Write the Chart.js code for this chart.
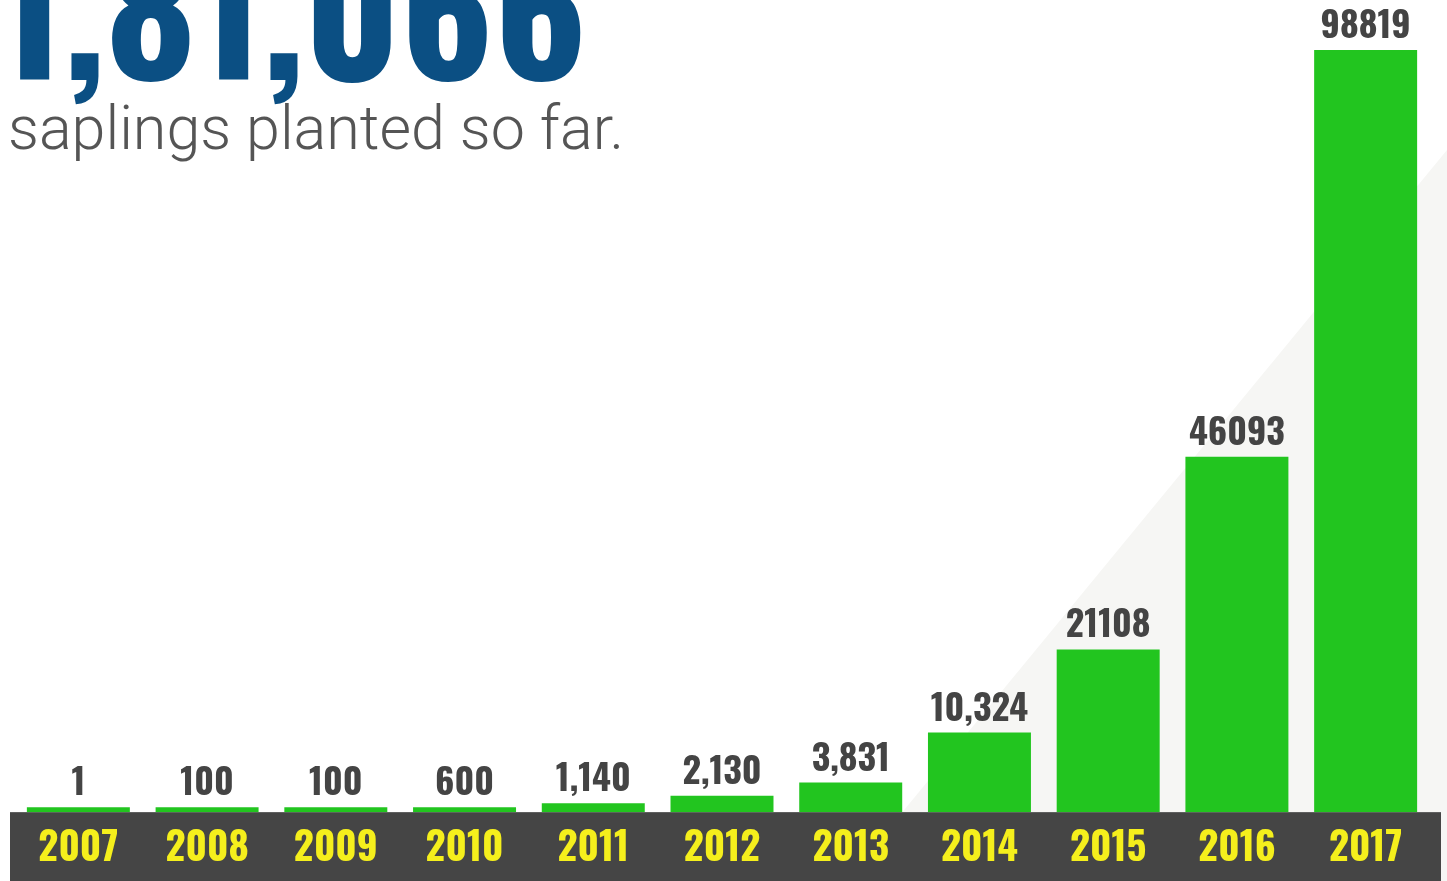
<!DOCTYPE html>
<html>
<head>
<meta charset="utf-8">
<script src="https://cdn.jsdelivr.net/npm/chart.js"></script>
<style>
  html, body { margin: 0; padding: 0; background: #ffffff; overflow: hidden; }
  #wrap { position: relative; width: 1447px; height: 881px; }
  #shade { position: absolute; left: 0; top: 0; width: 1447px; height: 881px; background: #f6f6f4;
           clip-path: polygon(900px 815px, 1447px 150px, 1447px 881px, 900px 881px); }
  #chartBox { position: absolute; left: 0; top: 0; width: 1447px; height: 881px; }
  #total { position: absolute; left: -3px; top: -86px; margin: 0; font-family: Oswald, "Roboto Condensed", sans-serif;
           font-weight: bold; font-size: 174px; line-height: 1; color: #0b4f83; white-space: nowrap; }
  #sub { position: absolute; left: 8px; top: 98px; margin: 0; font-family: Roboto, "Noto Sans", sans-serif; font-weight: 300;
         font-size: 61px; line-height: 1; color: #555555; white-space: nowrap; }
</style>
</head>
<body>
<div id="wrap">
  <div id="shade"></div>
  <div id="chartBox"><canvas id="saplingChart"></canvas></div>
  <div id="total">1,81,066</div>
  <div id="sub">saplings planted so far.</div>
</div>
<script>
var years = ['2007', '2008', '2009', '2010', '2011', '2012', '2013', '2014', '2015', '2016', '2017'];
var saplings = [1, 100, 100, 600, 1140, 2130, 3831, 10324, 21108, 46093, 98819];
var valueLabels = ['1', '100', '100', '600', '1,140', '2,130', '3,831', '10,324', '21108', '46093', '98819'];

var numFont = 'Oswald, "Roboto Condensed", sans-serif';

// dark strip behind the year labels
var bandPlugin = {
  id: 'band',
  beforeDraw: function(chart) {
    var ctx = chart.ctx;
    var area = chart.chartArea;
    ctx.save();
    ctx.fillStyle = '#454545';
    ctx.fillRect(10, area.bottom, chart.width - 16, chart.height - area.bottom);
    ctx.restore();
  }
};

// numbers above bars
var valuePlugin = {
  id: 'values',
  afterDatasetsDraw: function(chart) {
    var ctx = chart.ctx;
    var meta = chart.getDatasetMeta(0);
    ctx.save();
    ctx.fillStyle = '#444444';
    ctx.font = 'bold 36px ' + numFont;
    ctx.textAlign = 'center';
    ctx.textBaseline = 'alphabetic';
    meta.data.forEach(function(bar, i) {
      ctx.fillText(valueLabels[i], bar.x, bar.y - 12);
    });
    ctx.restore();
  }
};

var ctx = document.getElementById('saplingChart');

new Chart(ctx, {
  type: 'bar',
  data: {
    labels: years,
    datasets: [{
      label: 'Saplings planted',
      data: saplings,
      backgroundColor: '#22c51f',
      borderWidth: 0,
      barPercentage: 0.8,
      categoryPercentage: 1,
      minBarLength: 5
    }]
  },
  options: {
    responsive: true,
    maintainAspectRatio: false,
    animation: false,
    layout: {
      padding: { top: 41, left: 14, right: 17, bottom: -6 }
    },
    plugins: {
      legend: { display: false },
      tooltip: { enabled: false }
    },
    scales: {
      x: {
        grid: { display: false, drawTicks: false },
        border: { display: false },
        ticks: {
          color: '#f5ef1c',
          padding: 15,
          font: { family: numFont, weight: 'bold', size: 39, lineHeight: 1.15 }
        }
      },
      y: {
        display: false,
        min: 0,
        max: 100000
      }
    }
  },
  plugins: [bandPlugin, valuePlugin]
});
</script>
</body>
</html>
